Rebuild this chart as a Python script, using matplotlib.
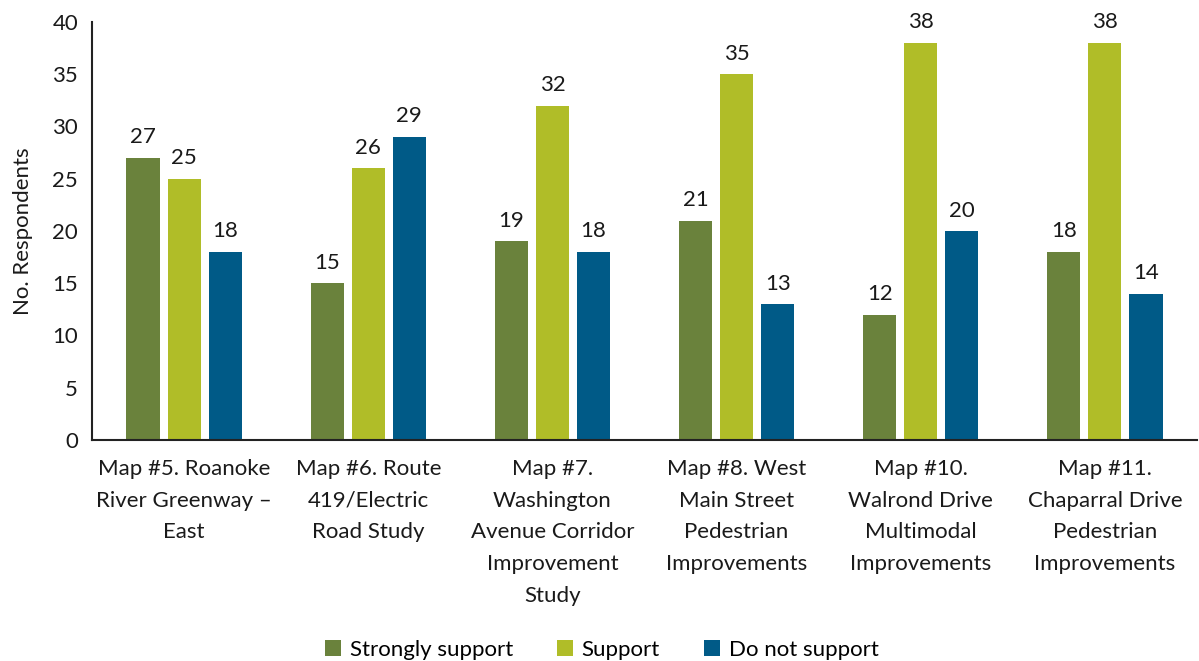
import matplotlib
matplotlib.use("Agg")
import matplotlib.pyplot as plt
import numpy as np

categories = [
    "Map #5. Roanoke\nRiver Greenway –\nEast",
    "Map #6. Route\n419/Electric\nRoad Study",
    "Map #7.\nWashington\nAvenue Corridor\nImprovement\nStudy",
    "Map #8. West\nMain Street\nPedestrian\nImprovements",
    "Map #10.\nWalrond Drive\nMultimodal\nImprovements",
    "Map #11.\nChaparral Drive\nPedestrian\nImprovements",
]
strongly_support = [27, 15, 19, 21, 12, 18]
support = [25, 26, 32, 35, 38, 38]
do_not_support = [18, 29, 18, 13, 20, 14]
series_names = ["Strongly support", "Support", "Do not support"]
colors = ["#6A823C", "#B0BD28", "#005A87"]

plt.rcParams['font.family'] = ['Lato', 'DejaVu Sans']
FS = 16
TC = '#1a1a1a'

fig = plt.figure(figsize=(11.99, 6.61), dpi=100)
ax = fig.add_axes([92/1199, 1-440/661, (1197-92)/1199, (440-22)/661])

x = np.arange(len(categories))
w = 0.18
step = 0.223
for i, (vals, name, c) in enumerate(zip([strongly_support, support, do_not_support], series_names, colors)):
    bars = ax.bar(x + (i-1)*step, vals, w, color=c, label=name)
    for b, v in zip(bars, vals):
        ax.text(b.get_x()+b.get_width()/2, v + 1.0, str(v), ha='center', va='bottom',
                fontsize=FS, color=TC)

ax.set_xlim(-0.5, len(categories)-0.5)
ax.set_ylim(0, 40)
ax.set_yticks(range(0, 41, 5))
ax.set_xticks(x)
ax.set_xticklabels(categories, fontsize=FS, linespacing=1.72, color=TC)
ax.tick_params(axis='both', length=0, labelsize=FS, colors=TC)
ax.tick_params(axis='x', pad=14)
ax.tick_params(axis='y', pad=10)
ax.set_ylabel("No. Respondents", fontsize=FS, color=TC, labelpad=14)
for s in ['top', 'right']:
    ax.spines[s].set_visible(False)
for s in ['left', 'bottom']:
    ax.spines[s].set_color('#222222')
    ax.spines[s].set_linewidth(1.5)

fig.legend(loc='lower center', bbox_to_anchor=(0.502, -0.028), ncol=3, frameon=False,
           fontsize=FS, handlelength=0.7, handleheight=0.7, handletextpad=0.4, columnspacing=2.0)

fig.savefig("out.png", dpi=100)
